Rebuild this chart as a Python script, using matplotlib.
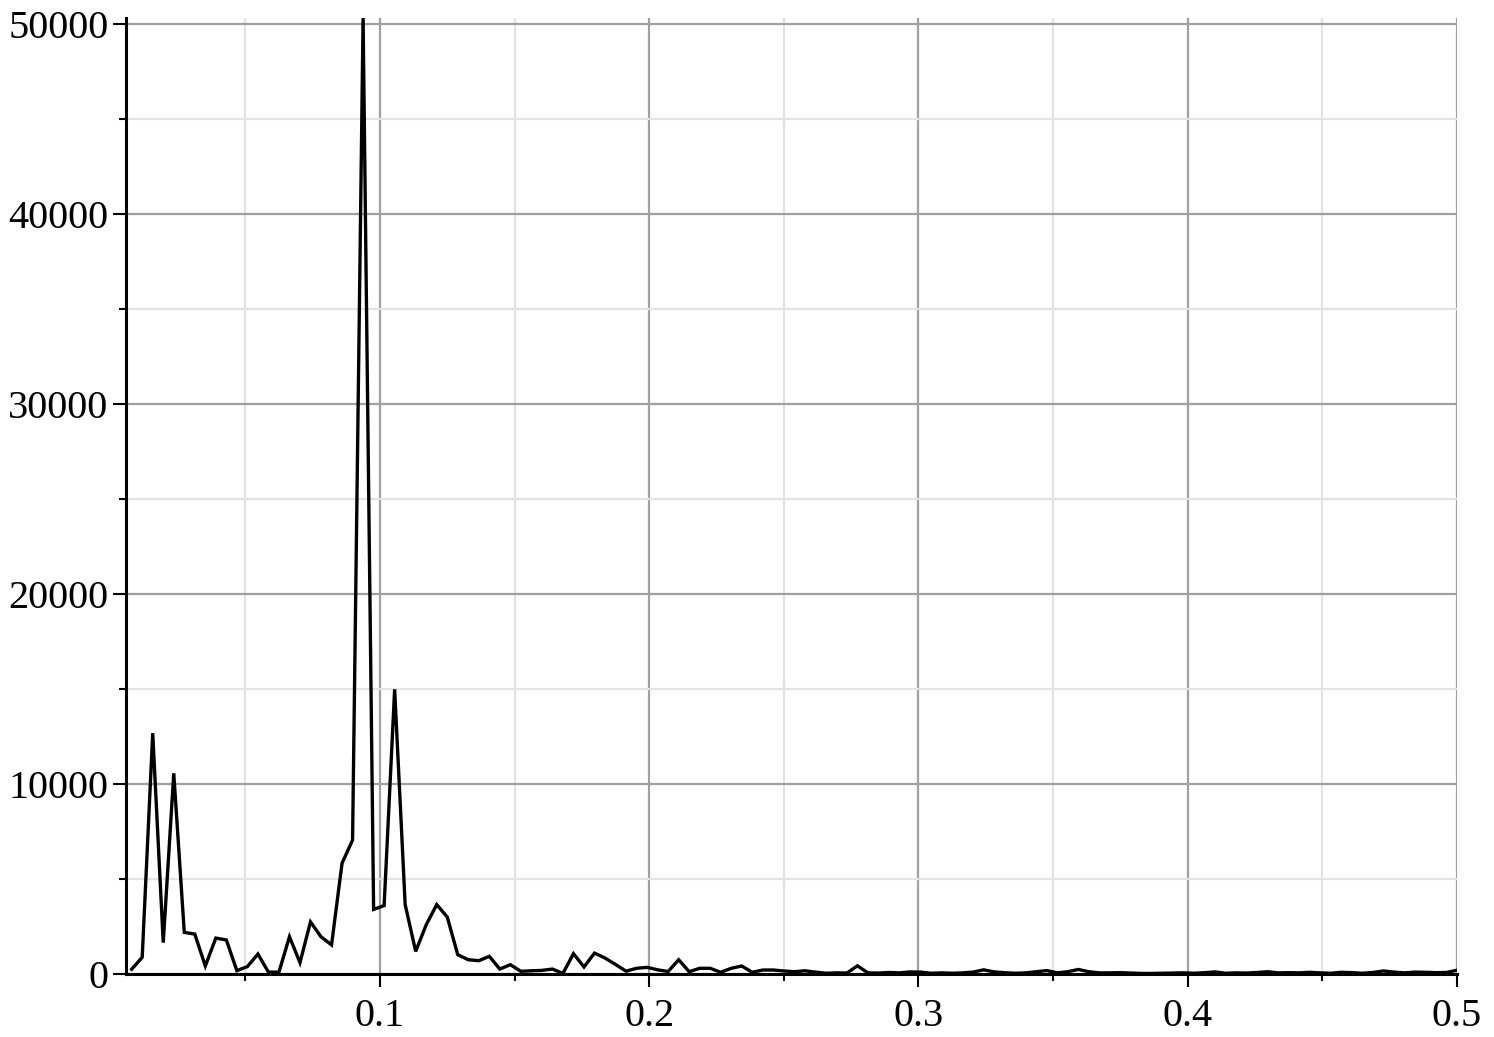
import numpy as np
import matplotlib
matplotlib.use("Agg")
import matplotlib.pyplot as plt
from matplotlib.ticker import FixedLocator

# frequency index k (x = k/256) and spectrum values
k_index = list(range(2, 129))
power = [
    250, 880, 12670, 1650, 10560, 2190, 2100, 420, 1890, 1790,
    175, 390, 1050, 100, 100, 1960, 600, 2740, 1960, 1530,
    5830, 7050, 50300, 3400, 3600, 14980, 3650, 1190, 2590, 3650,
    3000, 1015, 750, 700, 930, 260, 490, 140, 170, 190,
    260, 30, 1070, 370, 1100, 840, 500, 150, 300, 350,
    220, 130, 750, 120, 300, 300, 90, 300, 420, 90,
    210, 210, 160, 120, 170, 100, 40, 60, 50, 430,
    60, 50, 80, 60, 110, 100, 40, 60, 40, 60,
    100, 220, 110, 70, 40, 60, 120, 180, 60, 120,
    240, 120, 60, 60, 70, 50, 30, 30, 40, 50,
    60, 40, 70, 110, 40, 60, 50, 80, 120, 60,
    70, 60, 90, 60, 40, 90, 70, 40, 80, 160,
    100, 60, 100, 90, 70, 80, 200,
]
x_ticks = [0.1, 0.2, 0.3, 0.4, 0.5]
x_tick_labels = ["0.1", "0.2", "0.3", "0.4", "0.5"]
y_ticks = [0, 10000, 20000, 30000, 40000, 50000]
y_tick_labels = ["0", "10000", "20000", "30000", "40000", "50000"]

freq = np.array(k_index) / 256.0
vals = np.array(power, dtype=float)

fig = plt.figure(figsize=(14.94, 10.37), dpi=100)
ax = fig.add_axes([126 / 1494, 1 - 974 / 1037, (1457 - 126) / 1494, (974 - 18) / 1037])

ax.plot(freq, vals, color="black", lw=2.4, zorder=3, solid_joinstyle="miter")

ax.set_xlim(0.0057, 0.5)
ax.set_ylim(0, 50300)

ax.xaxis.set_major_locator(FixedLocator(x_ticks))
ax.set_xticklabels(x_tick_labels)
ax.xaxis.set_minor_locator(FixedLocator([0.05, 0.15, 0.25, 0.35, 0.45]))
ax.yaxis.set_major_locator(FixedLocator(y_ticks))
ax.set_yticklabels(y_tick_labels)
ax.yaxis.set_minor_locator(FixedLocator([5000, 15000, 25000, 35000, 45000]))

ax.grid(which="major", color="#a0a0a0", lw=1.6, zorder=0)
ax.grid(which="minor", color="#e3e3e3", lw=1.6, zorder=0)
ax.set_axisbelow(True)

for s in ["top", "right"]:
    ax.spines[s].set_visible(False)
for s in ["left", "bottom"]:
    ax.spines[s].set_linewidth(2.2)
    ax.spines[s].set_zorder(4)

ax.tick_params(which="major", direction="out", length=9.5, width=1.5, labelsize=29)
ax.tick_params(axis="x", which="major", pad=8)
ax.tick_params(axis="y", which="major", pad=3)
ax.tick_params(which="minor", direction="out", length=5, width=1.5)
for lab in ax.get_xticklabels() + ax.get_yticklabels():
    lab.set_fontfamily("Liberation Serif")

fig.savefig("out.png", dpi=100, facecolor="white")
